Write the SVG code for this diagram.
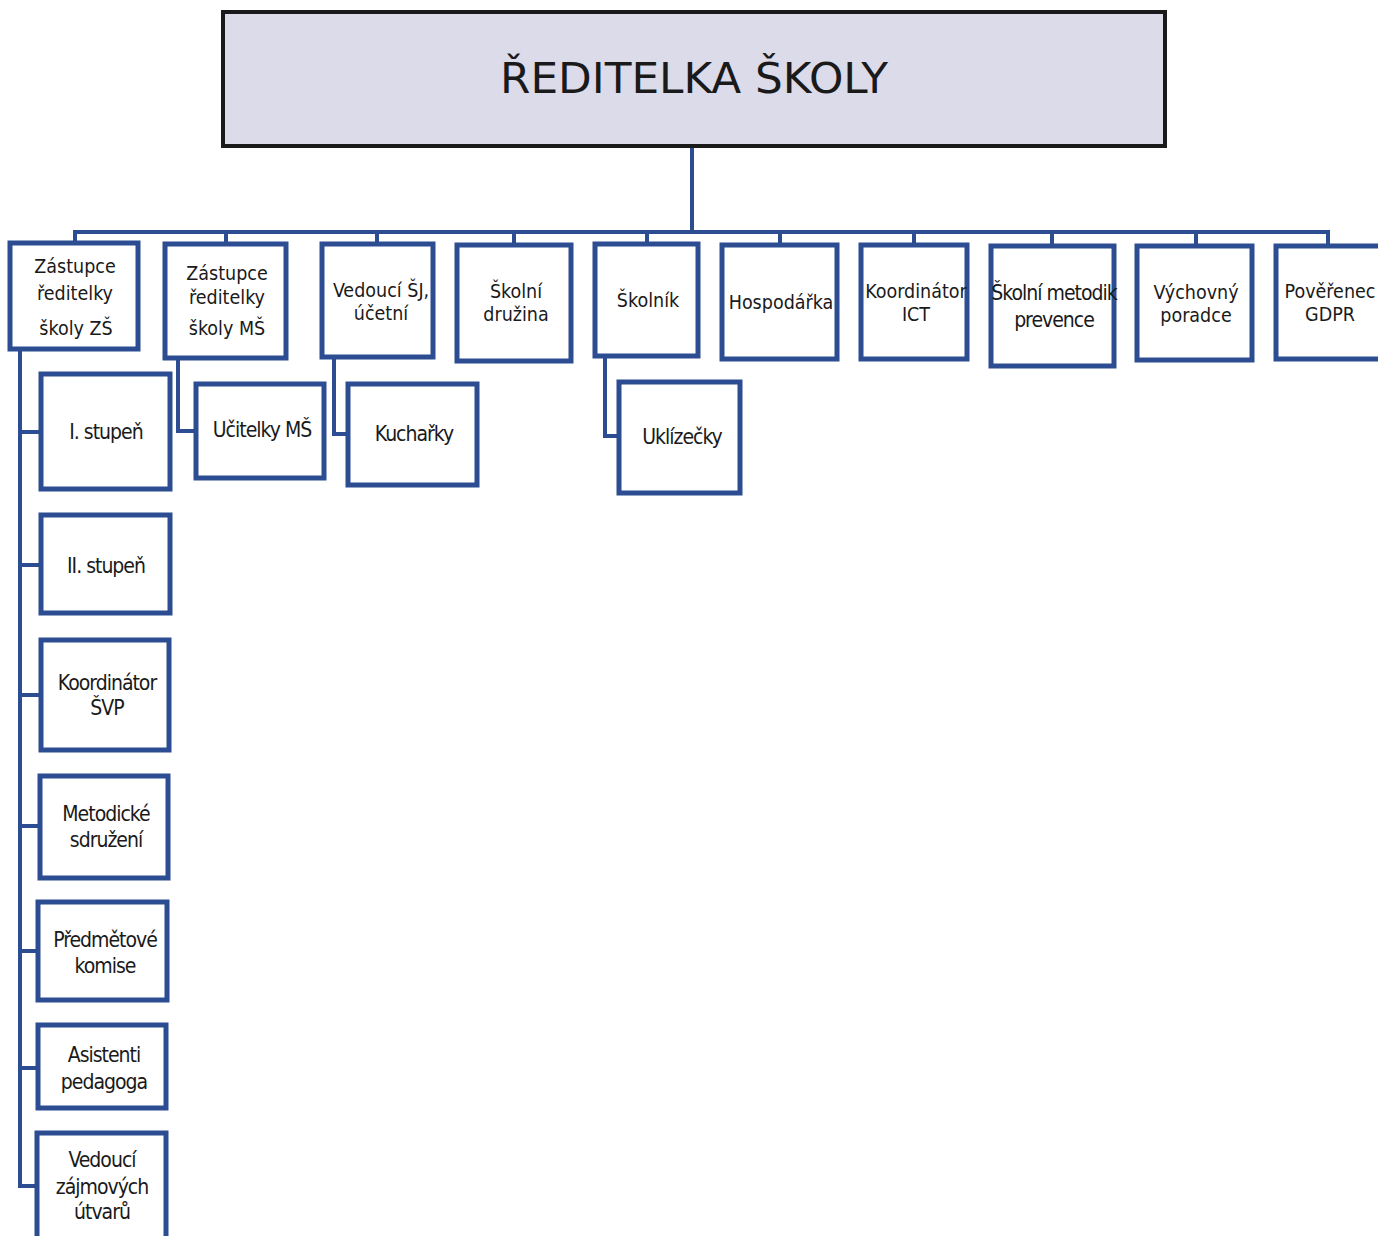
<svg xmlns="http://www.w3.org/2000/svg" width="1378" height="1236" viewBox="0 0 1378 1236">
<style>
.box{fill:#ffffff;stroke:#2c4d92;stroke-width:5}
.t{font-family:"DejaVu Sans Condensed","DejaVu Sans",sans-serif;font-stretch:condensed;font-size:19.5px;fill:#1a1a1a;text-anchor:middle}
.s{font-family:"Liberation Sans Narrow","DejaVu Sans Condensed","DejaVu Sans",sans-serif;font-stretch:condensed;font-size:21px;fill:#1a1a1a;text-anchor:middle;letter-spacing:-1px}
.c{fill:none;stroke:#2c4d92;stroke-width:4;stroke-linejoin:miter}
</style>
<rect width="1378" height="1236" fill="#ffffff"/>
<g id="connectors">
<path class="c" d="M692 146 V232 M75 243 V232 H1328 V246 M226 232 V244 M377 232 V244 M514 232 V245 M647 232 V244 M780 232 V245 M914 232 V245 M1052 232 V246 M1196 232 V246"/>
<path class="c" d="M20 349 V1186 H37 M20 432 H41 M20 565 H41 M20 695 H41 M20 826 H40 M20 951 H38 M20 1068 H38"/>
<path class="c" d="M178 358 V431 H196"/>
<path class="c" d="M334 357 V434 H348"/>
<path class="c" d="M605 356 V436 H619"/>
</g>
<g id="root">
<rect x="223" y="12" width="942" height="134" fill="#dcdbea" stroke="#1a1a1a" stroke-width="4"/>
<text x="694" y="93" font-family="DejaVu Sans Condensed,DejaVu Sans,sans-serif" font-size="42" fill="#1a1a1a" text-anchor="middle" textLength="388" lengthAdjust="spacingAndGlyphs">ŘEDITELKA ŠKOLY</text>
</g>
<g id="n1"><rect class="box" x="10" y="243" width="128" height="106"/><text class="t" x="75" y="273" font-size="21">Zástupce</text><text class="t" x="75" y="300" font-size="21">ředitelky</text><text class="t" x="76" y="335" font-size="21">školy ZŠ</text></g>
<g id="n2"><rect class="box" x="165" y="244" width="121" height="114"/><text class="t" x="227" y="280">Zástupce</text><text class="t" x="227" y="304">ředitelky</text><text class="t" x="227" y="335">školy MŠ</text></g>
<g id="n3"><rect class="box" x="322" y="244" width="111" height="113"/><text class="t" x="381" y="297">Vedoucí ŠJ,</text><text class="t" x="381" y="320">účetní</text></g>
<g id="n4"><rect class="box" x="457" y="245" width="114" height="116"/><text class="t" x="516" y="298">Školní</text><text class="t" x="516" y="321">družina</text></g>
<g id="n5"><rect class="box" x="595" y="244" width="103" height="112"/><text class="t" x="648" y="307">Školník</text></g>
<g id="n6"><rect class="box" x="722" y="245" width="115" height="114"/><text class="t" x="781" y="309">Hospodářka</text></g>
<g id="n7"><rect class="box" x="861" y="245" width="106" height="114"/><text class="t" x="916" y="298">Koordinátor</text><text class="t" x="916" y="321">ICT</text></g>
<g id="n8"><rect class="box" x="991" y="246" width="123" height="120"/><text class="s" x="1054" y="300">Školní metodik</text><text class="s" x="1054" y="327">prevence</text></g>
<g id="n9"><rect class="box" x="1137" y="246" width="115" height="114"/><text class="t" x="1196" y="299">Výchovný</text><text class="t" x="1196" y="322">poradce</text></g>
<g id="n10"><rect class="box" x="1276" y="246" width="106" height="113"/><text class="t" x="1330" y="298">Pověřenec</text><text class="t" x="1330" y="321">GDPR</text></g>
<g id="n11"><rect class="box" x="41" y="374" width="129" height="115"/><text class="s" x="106" y="439">I. stupeň</text></g>
<g id="n12"><rect class="box" x="196" y="384" width="128" height="94"/><text class="s" x="262" y="437">Učitelky MŠ</text></g>
<g id="n13"><rect class="box" x="348" y="384" width="129" height="101"/><text class="s" x="414" y="441">Kuchařky</text></g>
<g id="n14"><rect class="box" x="619" y="382" width="121" height="111"/><text class="s" x="682" y="444">Uklízečky</text></g>
<g id="n15"><rect class="box" x="41" y="515" width="129" height="98"/><text class="s" x="106" y="573">II. stupeň</text></g>
<g id="n16"><rect class="box" x="41" y="640" width="128" height="110"/><text class="s" x="107" y="690">Koordinátor</text><text class="s" x="107" y="715">ŠVP</text></g>
<g id="n17"><rect class="box" x="40" y="776" width="128" height="102"/><text class="s" x="106" y="821">Metodické</text><text class="s" x="106" y="847">sdružení</text></g>
<g id="n18"><rect class="box" x="38" y="902" width="129" height="98"/><text class="s" x="105" y="947">Předmětové</text><text class="s" x="105" y="973">komise</text></g>
<g id="n19"><rect class="box" x="38" y="1025" width="128" height="83"/><text class="s" x="104" y="1062">Asistenti</text><text class="s" x="104" y="1089">pedagoga</text></g>
<g id="n20"><rect class="box" x="37" y="1133" width="129" height="110"/><text class="s" x="102" y="1167">Vedoucí</text><text class="s" x="102" y="1194">zájmových</text><text class="s" x="102" y="1219">útvarů</text></g>
</svg>
